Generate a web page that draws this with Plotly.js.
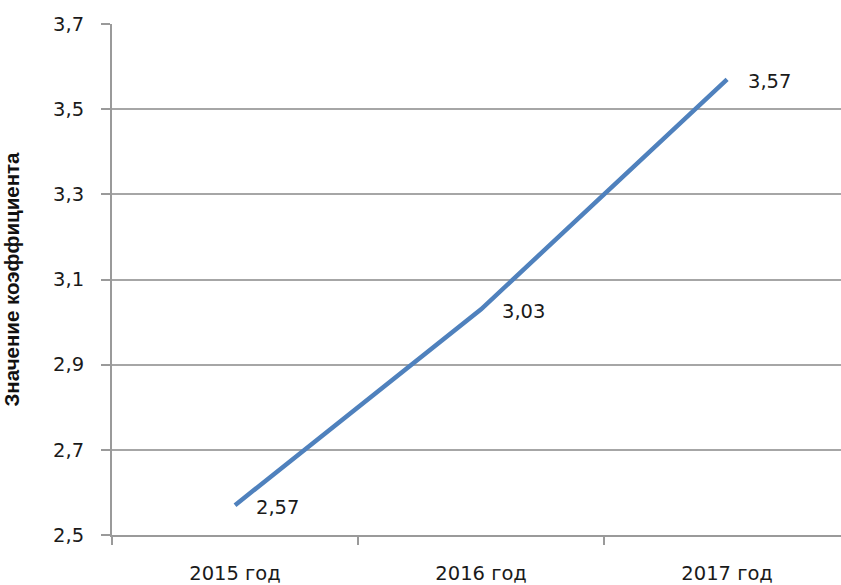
<!DOCTYPE html>
<html><head><meta charset="utf-8">
<script src="https://cdn.plot.ly/plotly-3.0.1.min.js"></script>
<style>html,body{margin:0;padding:0;background:#fff}</style>
</head><body>
<div id="chart" style="width:841px;height:585px"></div>
<script>
const categories = ["2015 год", "2016 год", "2017 год"];
const values = [2.57, 3.03, 3.57];
const valueLabels = ["2,57", "3,03", "3,57"];
const yTitle = "Значение коэффициента";

const trace = {
  x: categories, y: values, type: "scatter", mode: "lines",
  line: {color: "#4f81bd", width: 4.5}, hoverinfo: "none"
};
const annotations = categories.map((c, i) => ({
  x: c, y: values[i], text: valueLabels[i], showarrow: false,
  xanchor: "left", yanchor: "middle", xshift: 19, yshift: -2,
  font: {family: "DejaVu Sans, Verdana, sans-serif", size: 19.5, color: "#1a1a1a"}
}));
const layout = {
  width: 841, height: 585,
  margin: {l: 112, r: 0, t: 24, b: 50},
  separators: ",.",
  showlegend: false,
  paper_bgcolor: "#fff", plot_bgcolor: "#fff",
  font: {family: "DejaVu Sans, Verdana, sans-serif", size: 19.5, color: "#1a1a1a"},
  xaxis: {
    type: "category", range: [-0.5, 2.463],
    showgrid: false, showline: true, linecolor: "#9a9a9a", linewidth: 2,
    ticks: "outside", tickson: "boundaries", ticklen: 8, tickcolor: "#9a9a9a", tickwidth: 1.5,
    ticklabelstandoff: 20, tickfont: {size: 19.5}
  },
  yaxis: {
    range: [2.5, 3.7], dtick: 0.2, tick0: 2.5, tickformat: ".1f",
    showgrid: true, gridcolor: "#a6a6a6", gridwidth: 2,
    showline: true, linecolor: "#9a9a9a", linewidth: 2, zeroline: false,
    ticks: "outside", ticklen: 9, tickcolor: "#9a9a9a", tickwidth: 2,
    ticklabelstandoff: 13, tickfont: {size: 19.5},
    title: {text: yTitle, standoff: 36,
      font: {family: "Liberation Sans Narrow, Arial Narrow, Liberation Sans, sans-serif", size: 20.5, weight: "bold", color: "#111"}}
  },
  annotations: annotations
};
Plotly.newPlot("chart", [trace], layout, {displayModeBar: false, staticPlot: true});
</script>
</body></html>
